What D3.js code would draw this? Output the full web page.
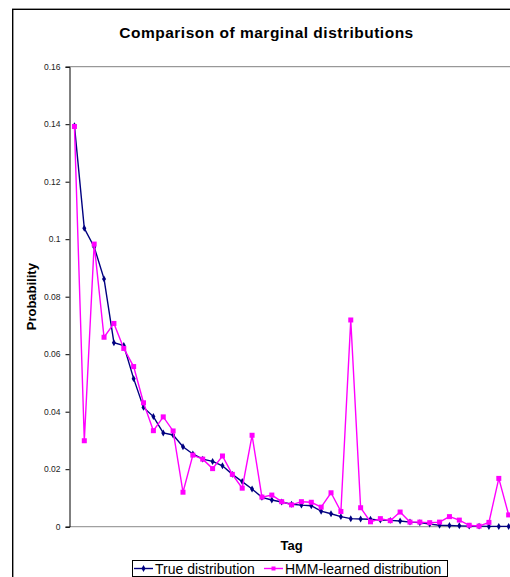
<!DOCTYPE html>
<html>
<head>
<meta charset="utf-8">
<script src="https://cdn.jsdelivr.net/npm/d3@7"></script>
<style>
    body { margin: 0; background: #fff; }
    svg { display: block; font-family: "Liberation Sans", Arial, sans-serif; }
</style>
</head>
<body>
<svg class="chart"></svg>
<script>
// values, one per tag
var trueValues = [0.1395, 0.1038, 0.0973, 0.0862, 0.064, 0.063, 0.0515, 0.0415, 0.0383, 0.0326,
    0.0319, 0.0278, 0.0253, 0.0235, 0.0227, 0.0212, 0.0182, 0.0157, 0.0131, 0.0102,
    0.0093, 0.0086, 0.0078, 0.0075, 0.0073, 0.0054, 0.0045, 0.0035, 0.0028, 0.0027,
    0.0026, 0.0023, 0.0022, 0.002, 0.0016, 0.0014, 0.0009, 0.0005, 0.0004, 0.0003,
    0.0002, 0.0002, 0.0001, 0.0001, 0.0001];
var hmmValues = [0.1392, 0.0299, 0.0983, 0.0659, 0.0707, 0.062, 0.0557, 0.0431, 0.0334, 0.0382,
    0.0333, 0.012, 0.0249, 0.0235, 0.0202, 0.0246, 0.0182, 0.0134, 0.0318, 0.0103,
    0.011, 0.0087, 0.0076, 0.0087, 0.0085, 0.0068, 0.0118, 0.0053, 0.0719, 0.0066,
    0.0017, 0.0028, 0.0021, 0.0051, 0.0016, 0.0016, 0.0014, 0.0016, 0.0035, 0.0023,
    0.0005, 0.0002, 0.0015, 0.0168, 0.0041];
var tags = d3.range(1, trueValues.length + 1);
var yTicks = [0, 0.02, 0.04, 0.06, 0.08, 0.1, 0.12, 0.14, 0.16];
var seriesNames = ["True distribution", "HMM-learned distribution"];

var width = 510, height = 577;
var plot = {left: 69.5, right: 513.6, top: 66.7, bottom: 526.7};
var navy = "#000080", pink = "#ff00ff";

var svg = d3.select(".chart")
        .attr("width", width)
        .attr("height", height);

// outer chart frame (runs off the right and bottom of the picture)
svg.append("rect")
        .attr("x", 12.7).attr("y", 9.3)
        .attr("width", 520).attr("height", 600)
        .attr("fill", "none")
        .attr("stroke", "#000")
        .attr("stroke-width", 1.4);

svg.append("text")
        .attr("x", 266.5).attr("y", 37.5)
        .style("text-anchor", "middle")
        .style("font-weight", "bold")
        .style("font-size", "15.5px")
        .style("letter-spacing", "0.5px")
        .text("Comparison of marginal distributions");

var xRange = d3.scalePoint()
        .domain(tags)
        .range([plot.left, plot.right])
        .padding(0.5);
var yRange = d3.scaleLinear()
        .domain([0, 0.16])
        .range([plot.bottom, plot.top]);

// plot area border on top, grey category axis at the bottom
svg.append("line")
        .attr("x1", plot.left).attr("x2", plot.right)
        .attr("y1", yRange(0.16)).attr("y2", yRange(0.16))
        .attr("stroke", "#808080");
svg.append("line")
        .attr("x1", plot.left).attr("x2", plot.right)
        .attr("y1", yRange(0)).attr("y2", yRange(0))
        .attr("stroke", "#a0a0a0")
        .attr("stroke-width", 1.2);

var yAxis = svg.append("g")
        .attr("class", "y axis")
        .attr("transform", "translate(" + plot.left + ",0)")
        .call(d3.axisLeft(yRange).tickValues(yTicks).tickSize(4).tickPadding(5)
                .tickFormat(function (d) { return d3.format("~g")(d); }));
yAxis.select(".domain").attr("stroke", "#000");
yAxis.selectAll("text")
        .style("font-family", "\"Liberation Sans\", Arial, sans-serif")
        .style("font-size", "8.5px")
        .attr("fill", "#222");

svg.append("text")
        .attr("transform", "translate(36," + ((plot.top + plot.bottom) / 2) + ") rotate(-90)")
        .style("text-anchor", "middle")
        .style("font-weight", "bold")
        .style("font-size", "13px")
        .text("Probability");

svg.append("text")
        .attr("x", (plot.left + plot.right) / 2).attr("y", 550)
        .style("text-anchor", "middle")
        .style("font-weight", "bold")
        .style("font-size", "13px")
        .text("Tag");

var line = d3.line()
        .x(function (d, i) { return xRange(tags[i]); })
        .y(function (d) { return yRange(d); });

var diamond = d3.symbol().type(d3.symbolDiamond).size(14);

function drawSeries(values, colour, marker) {
    var g = svg.append("g");
    g.append("path")
            .datum(values)
            .attr("d", line)
            .attr("fill", "none")
            .attr("stroke", colour)
            .attr("stroke-width", 1.4);
    if (marker == "square") {
        g.selectAll("rect").data(values).enter().append("rect")
                .attr("x", function (d, i) { return xRange(tags[i]) - 2.5; })
                .attr("y", function (d) { return yRange(d) - 2.5; })
                .attr("width", 5).attr("height", 5)
                .attr("fill", colour);
    } else {
        g.selectAll("path.mark").data(values).enter().append("path")
                .attr("class", "mark")
                .attr("d", diamond)
                .attr("transform", function (d, i) {
                    return "translate(" + xRange(tags[i]) + "," + yRange(d) + ")";
                })
                .attr("fill", colour);
    }
}

drawSeries(trueValues, navy, "diamond");
drawSeries(hmmValues, pink, "square");

// legend
var legend = svg.append("g");
legend.append("rect")
        .attr("x", 132.5).attr("y", 560.5)
        .attr("width", 315).attr("height", 16)
        .attr("fill", "#fff")
        .attr("stroke", "#000");
var legendItems = [
    {name: seriesNames[0], colour: navy, marker: "diamond", x: 134, textX: 155},
    {name: seriesNames[1], colour: pink, marker: "square", x: 264, textX: 285}
];
legendItems.forEach(function (item) {
    legend.append("line")
            .attr("x1", item.x).attr("x2", item.x + 19)
            .attr("y1", 568.5).attr("y2", 568.5)
            .attr("stroke", item.colour)
            .attr("stroke-width", 1.4);
    if (item.marker == "square") {
        legend.append("rect")
                .attr("x", item.x + 7.5).attr("y", 566.5)
                .attr("width", 4).attr("height", 4)
                .attr("fill", item.colour);
    } else {
        legend.append("path")
                .attr("d", diamond)
                .attr("transform", "translate(" + (item.x + 9.5) + ",568.5)")
                .attr("fill", item.colour);
    }
    legend.append("text")
            .attr("x", item.textX).attr("y", 573.5)
            .style("font-size", "14px")
            .text(item.name);
});
</script>
</body>
</html>
